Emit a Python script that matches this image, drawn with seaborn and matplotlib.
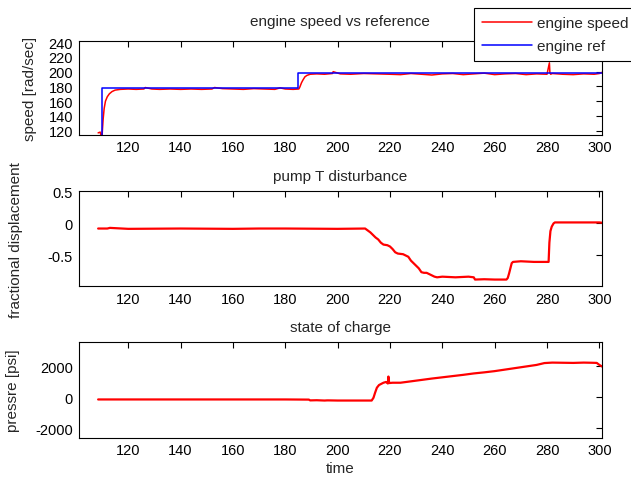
import matplotlib
matplotlib.use("Agg")
import matplotlib.pyplot as plt
import seaborn as sns
import pandas as pd

# engine speed vs reference
speed_t = [108.5, 109.3, 109.6, 110.0, 110.4, 110.8, 111.3, 112.0, 112.8, 113.8,
           115.0, 117.0, 120.0, 123.0, 126.0, 126.5, 129.0, 132.0, 136.0, 140.0,
           144.0, 148.0, 152.0, 153.0, 156.0, 160.0, 164.0, 168.0, 172.0, 176.0,
           178.0, 180.0, 183.0, 185.2, 185.6, 186.2, 186.8, 187.5, 188.3, 189.5,
           192.0, 195.0, 198.0, 198.3, 201.0, 205.0, 210.0, 215.0, 220.0, 224.0,
           228.0, 232.0, 236.0, 240.0, 244.0, 248.0, 252.0, 256.0, 260.0, 264.0,
           268.0, 272.0, 276.0, 280.0, 280.9, 281.1, 281.4, 282.0, 286.0, 290.0,
           294.0, 298.0, 300.0, 301.0]
speed_v = [117, 118, 113, 113, 135, 150, 160, 166, 170, 173,
           175, 176, 176.5, 176, 176.5, 178.5, 176.5, 176, 176.5, 176,
           176.5, 176, 176.5, 178.5, 177, 176.5, 176, 177, 176.5, 176,
           178, 176.5, 176, 176.5, 179.5, 185, 189, 193, 195, 196.5,
           197, 196.5, 197.5, 200, 197, 196.5, 197.5, 197, 196.5, 196,
           197.5, 196.5, 195.5, 197, 197.5, 196, 197, 198, 196, 197,
           197.5, 196, 197, 196.5, 212, 198.5, 196.5, 197.5, 196.5, 196,
           197, 196.5, 197.5, 199]
ref_t = [109.0, 110.0, 110.0, 185.0, 185.0, 301.0]
ref_v = [113, 113, 178, 178, 198.7, 198.7]

# pump T disturbance (fractional displacement)
pump_t = [108.5, 112, 113, 120, 140, 160, 170, 180, 200, 210.5,
          211.5, 212.5, 213.5, 214.5, 215.5, 216.5, 217.5, 219, 220, 221,
          222, 223, 225, 226, 227, 228, 229, 230, 231, 232,
          233, 234, 235, 236, 237, 238, 240, 245, 250, 252,
          252.5, 256, 260, 264.5, 265, 265.5, 266, 266.5, 267, 270,
          275, 280.6, 280.9, 281.3, 281.8, 282.5, 283, 290, 300, 301]
pump_v = [-0.08, -0.08, -0.07, -0.085, -0.08, -0.085, -0.08, -0.08, -0.085, -0.08,
          -0.11, -0.14, -0.18, -0.22, -0.25, -0.3, -0.33, -0.34, -0.36, -0.4,
          -0.45, -0.47, -0.48, -0.5, -0.52, -0.58, -0.62, -0.66, -0.7, -0.76,
          -0.77, -0.77, -0.79, -0.81, -0.83, -0.84, -0.83, -0.84, -0.83, -0.84,
          -0.875, -0.87, -0.875, -0.875, -0.85, -0.78, -0.7, -0.62, -0.6, -0.59,
          -0.6, -0.6, -0.3, -0.12, -0.05, 0.0, 0.015, 0.015, 0.015, 0.01]

# state of charge (pressure)
pres_t = [108.5, 120, 140, 160, 180, 189, 189.5, 192, 195, 196,
          196.5, 200, 205, 210, 213, 213.7, 214.3, 215, 215.8, 216.7,
          217.5, 218.5, 219.2, 219.4, 219.7, 221, 224, 228, 232, 236,
          240, 244, 248, 252, 256, 260, 264, 268, 272, 276,
          279, 282, 286, 290, 294, 297, 299, 300, 301]
pres_v = [-130, -130, -130, -130, -130, -140, -190, -180, -200, -190,
          -190, -200, -200, -200, -200, -20, 300, 630, 800, 880,
          950, 1000, 900, 1350, 930, 950, 950, 1040, 1130, 1220,
          1300, 1380, 1460, 1550, 1620, 1700, 1800, 1900, 2000, 2100,
          2220, 2250, 2240, 2230, 2250, 2240, 2230, 2100, 2000]

x_ticks = [120, 140, 160, 180, 200, 220, 240, 260, 280, 300]

sns.set_style("white")
plt.rcParams["font.family"] = ["Liberation Sans", "DejaVu Sans"]
plt.rcParams["font.size"] = 10.5
plt.rcParams["axes.unicode_minus"] = False

fig = plt.figure(figsize=(6.31, 4.81), dpi=100)
W, H = 631.0, 481.0
left, right = 78.5 / W, 602 / W
boxes = [(41.7, 135.7), (192.3, 287.3), (342.7, 438.7)]
axes = [fig.add_axes([left, 1 - b / H, right - left, (b - t) / H]) for t, b in boxes]

speed_df = pd.DataFrame({"t": speed_t, "v": speed_v})
ref_df = pd.DataFrame({"t": ref_t, "v": ref_v})
pump_df = pd.DataFrame({"t": pump_t, "v": pump_v})
pres_df = pd.DataFrame({"t": pres_t, "v": pres_v})

ax1, ax2, ax3 = axes
sns.lineplot(data=speed_df, x="t", y="v", ax=ax1, color="red", lw=1.1,
             sort=False, estimator=None, label="engine speed")
sns.lineplot(data=ref_df, x="t", y="v", ax=ax1, color="blue", lw=1.1,
             sort=False, estimator=None, label="engine ref")
sns.lineplot(data=pump_df, x="t", y="v", ax=ax2, color="red", lw=1.6,
             sort=False, estimator=None)
sns.lineplot(data=pres_df, x="t", y="v", ax=ax3, color="red", lw=1.6,
             sort=False, estimator=None)

ax1.set_ylim(114.5, 242)
ax1.set_yticks([120, 140, 160, 180, 200, 220, 240])
ax2.set_ylim(-0.98, 0.5)
ax2.set_yticks([-0.5, 0, 0.5])
ax2.set_yticklabels(["-0.5", "0", "0.5"])
ax3.set_ylim(-2600, 3600)
ax3.set_yticks([-2000, 0, 2000])

titles = ["engine speed vs reference", "pump T disturbance", "state of charge"]
pads = [11, 8, 8]
ylabels = ["speed [rad/sec]", "fractional displacement", "pressre [psi]"]
ylab_x = [-0.08, -0.106, -0.111]
for ax, ttl, pad, yl, yx in zip(axes, titles, pads, ylabels, ylab_x):
    ax.set_xlim(101, 301)
    ax.set_xticks(x_ticks)
    ax.set_title(ttl, pad=pad, fontsize=11)
    ax.set_ylabel(yl, fontsize=11)
    ax.yaxis.set_label_coords(yx, 0.5)
    ax.set_xlabel("")
    ax.tick_params(direction="in", length=4, width=0.8, top=True, right=True,
                   labelsize=10.5, pad=4, colors="black")
    for s in ax.spines.values():
        s.set_color("black")
        s.set_linewidth(0.8)
    if ax.get_legend() is not None:
        ax.get_legend().remove()

ax3.set_xlabel("time", fontsize=11, labelpad=3)

handles, labels = ax1.get_legend_handles_labels()
leg = fig.legend(handles, labels, loc="upper left",
                 bbox_to_anchor=(474 / W, 1 - 9.3 / H), frameon=True,
                 fancybox=False, framealpha=1, edgecolor="black",
                 handlelength=3.3, handletextpad=0.3, labelspacing=0.6,
                 borderpad=0.5, borderaxespad=0, fontsize=11)
leg.get_frame().set_linewidth(0.8)

fig.savefig("out.png", dpi=100)
